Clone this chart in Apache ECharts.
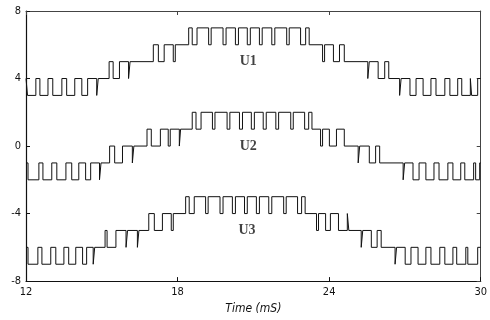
<!DOCTYPE html>
<html>
<head>
<meta charset="utf-8">
<script src="https://cdn.jsdelivr.net/npm/echarts@6/dist/echarts.min.js"></script>
<style>html,body{margin:0;padding:0;background:#fff;}#c{width:490px;height:320px;}</style>
</head>
<body>
<div id="c"></div>
<script>
// Series names
const seriesNames = ['U1', 'U2', 'U3'];
const xTickLabels = ['12', '18', '24', '30'];
const yTickLabels = ['-8', '-4', '0', '4', '8'];

// Step waveforms: [time (ms), level after the switching edge]
const u1 = [
[12.00,4],[12.06,3],[12.39,4],[12.55,3],[12.87,4],[13.06,3],[13.42,4],[13.61,3],[13.93,4],[14.21,3],[14.44,4],[14.80,3],[14.86,4],
[15.29,5],[15.45,4],[15.70,5],[16.06,4],[16.12,5],
[17.04,6],[17.24,5],[17.47,6],[17.83,5],[17.91,6],
[18.44,7],[18.58,6],[18.77,7],[19.23,6],[19.33,7],[19.80,6],[19.92,7],[20.29,6],[20.41,7],[20.76,6],[20.88,7],[21.24,6],[21.35,7],[21.73,6],[21.85,7],[22.32,6],[22.42,7],[22.87,6],[23.07,7],[23.21,6],
[23.74,5],[23.82,6],[24.17,5],[24.41,6],[24.60,5],
[25.53,4],[25.59,5],[25.94,4],[26.20,5],[26.36,4],
[26.79,3],[26.85,4],[27.20,3],[27.44,4],[27.72,3],[28.03,4],[28.23,3],[28.58,4],[28.78,3],[29.09,4],[29.25,3],[29.59,4],[29.64,3],[29.88,4],[30.00,4]
];
const u2 = [
[12.00,-1],[12.08,-2],[12.51,-1],[12.67,-2],[13.02,-1],[13.22,-2],[13.58,-1],[13.81,-2],[14.09,-1],[14.36,-2],[14.56,-1],[14.91,-2],[14.97,-1],
[15.31,0],[15.51,-1],[15.82,0],[16.21,-1],[16.27,0],
[16.79,1],[16.96,0],[17.32,1],[17.63,0],[17.71,1],[18.07,0],[18.12,1],
[18.58,2],[18.73,1],[18.93,2],[19.38,1],[19.48,2],[19.96,1],[20.07,2],[20.45,1],[20.57,2],[20.92,1],[21.04,2],[21.39,1],[21.51,2],[21.89,1],[22.00,2],[22.48,1],[22.58,2],[23.03,1],[23.19,2],[23.32,1],
[23.66,0],[23.74,1],[24.01,0],[24.29,1],[24.60,0],
[25.15,-1],[25.21,0],[25.59,-1],[25.84,0],[26.00,-1],
[26.93,-2],[26.99,-1],[27.32,-2],[27.56,-1],[27.83,-2],[28.15,-1],[28.35,-2],[28.70,-1],[28.90,-2],[29.21,-1],[29.37,-2],[29.72,-1],[29.80,-2],[29.96,-1],[30.00,-1]
];
const u3 = [
[12.00,-6],[12.08,-7],[12.47,-6],[12.63,-7],[12.98,-6],[13.18,-7],[13.50,-6],[13.69,-7],[13.97,-6],[14.24,-7],[14.40,-6],[14.66,-7],[14.72,-6],
[15.13,-5],[15.21,-6],[15.56,-5],[15.96,-6],[16.02,-5],[16.41,-6],[16.47,-5],
[16.86,-4],[17.08,-5],[17.40,-4],[17.75,-5],[17.83,-4],
[18.32,-3],[18.46,-4],[18.66,-3],[19.11,-4],[19.21,-3],[19.68,-4],[19.80,-3],[20.17,-4],[20.29,-3],[20.65,-4],[20.76,-3],[21.12,-4],[21.24,-3],[21.61,-4],[21.73,-3],[22.20,-4],[22.30,-3],[22.75,-4],[22.91,-3],[23.05,-4],
[23.50,-5],[23.58,-4],[23.86,-5],[24.05,-4],[24.37,-5],[24.72,-4],[24.78,-5],
[25.27,-6],[25.33,-5],[25.67,-6],[25.90,-5],[26.06,-6],
[26.61,-7],[26.67,-6],[27.01,-7],[27.24,-6],[27.52,-7],[27.83,-6],[28.03,-7],[28.38,-6],[28.58,-7],[28.90,-6],[29.05,-7],[29.41,-6],[29.49,-7],[29.88,-6],[30.00,-6]
];
const waves = [u1, u2, u3];

const chart = echarts.init(document.getElementById('c'), null, {renderer: 'canvas'});
const labelFont = "'Liberation Sans Narrow','DejaVu Sans Condensed','Liberation Sans',sans-serif";
const labelAnchors = [[20.8, 5.0], [20.8, 0.0], [20.75, -5.0]];

const series = waves.map((d, i) => ({
  name: seriesNames[i],
  type: 'line',
  step: 'end',
  data: d,
  symbol: 'none',
  lineStyle: {color: '#111', width: 1},
  xAxisIndex: 0, yAxisIndex: 0,
  silent: true
}));
series.push({
  type: 'scatter',
  symbolSize: 1,
  itemStyle: {color: 'rgba(0,0,0,0)'},
  data: seriesNames.map((n, i) => ({name: n, value: labelAnchors[i]})),
  label: {
    show: true, position: 'inside', formatter: '{b}',
    fontFamily: "'Liberation Serif','DejaVu Serif',serif",
    fontWeight: 'bold', fontSize: 14, color: '#111'
  },
  silent: true
});

chart.setOption({
  animation: false,
  backgroundColor: '#fff',
  grid: {left: 26, right: 7, top: 11, bottom: 35},
  xAxis: [{
    type: 'value', min: 12, max: 30, interval: 6, position: 'bottom',
    axisLine: {onZero: false, lineStyle: {color: '#111', width: 1.2}},
    axisTick: {inside: true, length: 4, lineStyle: {color: '#111'}},
    axisLabel: {
      color: '#111', fontSize: 11, fontFamily: labelFont, margin: 6,
      formatter: v => xTickLabels[Math.round((v - 12) / 6)] || ''
    },
    splitLine: {show: false},
    name: 'Time (mS)', nameLocation: 'middle', nameGap: 19,
    nameTextStyle: {color: '#111', fontSize: 12, fontStyle: 'italic', fontFamily: labelFont}
  }, {
    type: 'value', min: 12, max: 30, interval: 6, position: 'top',
    axisLine: {show: true, onZero: false, lineStyle: {color: '#444', width: 1}},
    axisTick: {show: true, inside: true, length: 4, lineStyle: {color: '#444'}},
    axisLabel: {show: false}, splitLine: {show: false}
  }],
  yAxis: [{
    type: 'value', min: -8, max: 8, interval: 4, position: 'left',
    axisLine: {show: true, onZero: false, lineStyle: {color: '#111', width: 1.2}},
    axisTick: {show: true, inside: true, length: 4, lineStyle: {color: '#111'}},
    axisLabel: {
      color: '#111', fontSize: 11, fontFamily: labelFont, margin: 5,
      formatter: v => yTickLabels[Math.round((v + 8) / 4)] || ''
    },
    splitLine: {show: false}
  }, {
    type: 'value', min: -8, max: 8, interval: 4, position: 'right',
    axisLine: {show: true, onZero: false, lineStyle: {color: '#444', width: 1}},
    axisTick: {show: true, inside: true, length: 4, lineStyle: {color: '#444'}},
    axisLabel: {show: false}, splitLine: {show: false}
  }],
  series: series
});
</script>
</body>
</html>
